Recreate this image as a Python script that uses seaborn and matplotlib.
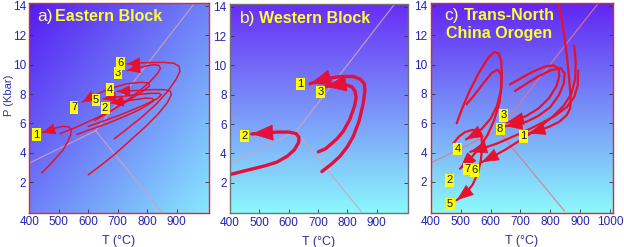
import numpy as np
import matplotlib
matplotlib.use("Agg")
import matplotlib.pyplot as plt
import seaborn as sns

# ---------------- data ----------------
x_ticks_ab = [400, 500, 600, 700, 800, 900]
x_ticks_c = [400, 500, 600, 700, 800, 900, 1000]
y_ticks = [2, 4, 6, 8, 10, 12, 14]

# Al2SiO5 phase boundaries
and_ky_T = [400, 625]
and_ky_P = [3.3, 5.5]
ky_sil_T = [625, 965]
ky_sil_P = [5.5, 14.3]
and_sil_T = [625, 848]
and_sil_P = [5.5, 0.0]

# Panel a - Eastern Block
a1_T = [442, 470, 495, 515, 530, 540, 543, 535, 515, 490, 465, 444]
a1_P = [2.63, 3.2, 3.75, 4.2, 4.75, 5.2, 5.55, 5.75, 5.8, 5.7, 5.5, 5.38]
a2_T = [561, 610, 665, 720, 770, 805, 822, 818, 795, 760, 715, 676]
a2_P = [5.25, 5.6, 6.0, 6.45, 6.9, 7.3, 7.55, 7.7, 7.72, 7.62, 7.5, 7.38]
a3_T = [622, 670, 720, 770, 810, 835, 845, 840, 822, 795, 765, 732]
a3_P = [6.2, 6.75, 7.4, 8.15, 8.85, 9.4, 9.75, 9.95, 10.0, 9.9, 9.75, 9.6]
a4_T = [600, 640, 690, 740, 790, 835, 868, 882, 878, 860, 820, 770, 730, 698]
a4_P = [2.5, 3.1, 3.9, 4.8, 5.7, 6.6, 7.4, 7.95, 8.2, 8.3, 8.3, 8.25, 8.2, 8.18]
a5_T = [600, 650, 705, 760, 805, 835, 848, 840, 810, 760, 700, 650]
a5_P = [5.8, 6.15, 6.55, 7.0, 7.4, 7.7, 7.95, 8.05, 8.05, 7.95, 7.8, 7.68]
a6_T = [688, 730, 780, 830, 870, 898, 911, 908, 890, 860, 820, 775, 732]
a6_P = [4.95, 5.6, 6.4, 7.3, 8.2, 9.0, 9.55, 9.9, 10.1, 10.15, 10.15, 10.12, 10.05]
a7_T = [504, 560, 620, 680, 740, 785, 808, 805, 780, 730, 670, 620, 580]
a7_P = [5.3, 5.75, 6.3, 6.9, 7.6, 8.2, 8.55, 8.75, 8.8, 8.7, 8.35, 7.9, 7.45]
a_labels = ["1", "2", "3", "4", "5", "6", "7"]
a_label_T = [423, 657, 701, 674, 626, 710, 552]
a_label_P = [5.24, 7.05, 9.43, 8.3, 7.6, 10.1, 7.1]

# Panel b - Western Block
b1_T = [713, 745, 775, 800, 820, 840, 854, 860, 858, 845, 820, 780, 741, 705, 673]
b1_P = [2.75, 3.25, 3.8, 4.45, 5.15, 6.2, 7.4, 8.3, 8.75, 9.05, 9.25, 9.25, 9.14, 8.95, 8.75]
b2_T = [400, 440, 480, 520, 560, 595, 620, 634, 635, 625, 600, 560, 520, 474]
b2_P = [2.55, 2.75, 2.95, 3.15, 3.4, 3.8, 4.25, 4.75, 5.1, 5.35, 5.45, 5.45, 5.38, 5.32]
b3_T = [701, 725, 741, 765, 786, 808, 824, 830, 826, 815, 786, 755, 724]
b3_P = [4.1, 4.3, 4.57, 5.0, 5.5, 6.3, 7.2, 7.8, 8.25, 8.55, 8.72, 8.65, 8.56]
b_labels = ["1", "2", "3"]
b_label_T = [639, 449, 710]
b_label_P = [8.73, 5.18, 8.18]

# Panel c - Trans-North China Orogen
c1_T = [827, 838, 848, 856, 862, 866, 868, 866, 855, 830, 795, 760, 727]
c1_P = [14.25, 13.1, 11.8, 10.5, 9.3, 8.3, 7.5, 7.0, 6.55, 6.1, 5.75, 5.5, 5.3]
c2_T = [520, 545, 575, 605, 625, 636, 637, 630, 612, 590, 565, 540, 515, 498]
c2_P = [7.3, 7.9, 8.7, 9.45, 9.65, 9.3, 8.5, 7.4, 6.2, 5.2, 4.4, 3.75, 3.25, 2.9]
c3_T = [665, 700, 740, 780, 810, 828, 830, 820, 795, 760, 720, 685, 655]
c3_P = [8.65, 9.05, 9.5, 9.85, 9.95, 9.75, 9.2, 8.5, 7.7, 7.0, 6.5, 6.2, 6.05]
c4_T = [487, 505, 530, 560, 590, 612, 628, 636, 638, 634, 622, 600, 570, 540, 518]
c4_P = [6.0, 7.0, 8.2, 9.4, 10.4, 10.85, 10.75, 10.2, 9.2, 8.2, 7.2, 6.3, 5.6, 5.15, 4.9]
c5_T = [476, 495, 515, 540, 560, 570, 572, 568, 558, 540, 515, 487]
c5_P = [4.64, 5.1, 5.4, 5.55, 5.45, 5.1, 4.4, 3.5, 2.6, 1.8, 1.2, 0.75]
c6_T = [880, 885, 883, 870, 845, 805, 755, 700, 650, 605, 571]
c6_P = [11.3, 10.2, 9.0, 8.0, 7.2, 6.4, 5.6, 4.85, 4.2, 3.7, 3.35]
c7_T = [893, 892, 880, 855, 815, 765, 715, 665, 620, 575, 532]
c7_P = [9.6, 8.6, 7.8, 7.1, 6.5, 5.95, 5.45, 5.0, 4.6, 4.3, 4.05]
c8_T = [682, 720, 760, 800, 835, 848, 845, 828, 800, 760, 720, 680, 650]
c8_P = [8.2, 8.7, 9.2, 9.6, 9.75, 9.4, 8.7, 7.9, 7.1, 6.5, 6.1, 5.9, 5.8]
c_labels = ["1", "2", "3", "4", "5", "6", "7", "8"]
c_label_T = [710, 462, 645, 490, 465, 548, 522, 632]
c_label_P = [5.1, 2.11, 6.55, 4.25, 0.5, 2.8, 2.87, 5.6]

# ---------------- style ----------------
sns.set_style("white")
plt.rcParams["font.family"] = ["Liberation Sans", "DejaVu Sans"]

W, H = 624, 247
fig = plt.figure(figsize=(W / 100, H / 100), dpi=100)

def frac_axes(l, t, r, b):
    return fig.add_axes([l / W, 1 - b / H, (r - l) / W, (b - t) / H])

ax_a = frac_axes(29.3, 3.0, 208.5, 213.0)
ax_b = frac_axes(230.0, 4.0, 407.5, 213.3)
ax_c = frac_axes(430.7, 3.0, 612.5, 212.7)

YLIM = (-0.1, 14.2)
tick_col = "#2424b4"
red = "#e8102a"


def background(ax, xlim, top, bottom, diagonal=False):
    n = 200
    u = np.linspace(0, 1, n)
    v = np.linspace(0, 1, n)
    U, V = np.meshgrid(u, v)  # V=0 bottom
    if diagonal:
        t = np.clip((U + (1 - V)) / 2.0, 0, 1)
    else:
        t = 1 - V
    top = np.array(top) / 255.0
    bottom = np.array(bottom) / 255.0
    img = top[None, None, :] + t[..., None] * (bottom - top)[None, None, :]
    ax.imshow(img, extent=[xlim[0], xlim[1], YLIM[0], YLIM[1]], origin="lower",
              aspect="auto", zorder=0, interpolation="bilinear")


def phase_lines(ax, col):
    for T, P in [(and_ky_T, and_ky_P), (ky_sil_T, ky_sil_P), (and_sil_T, and_sil_P)]:
        sns.lineplot(x=T, y=P, sort=False, estimator=None, ax=ax, color=col,
                     lw=0.9, alpha=0.85, zorder=1)


def path(ax, T, P, lw, ms, hl=0.6, hw=0.3, col=red):
    sns.lineplot(x=T, y=P, sort=False, estimator=None, ax=ax, color=col, lw=lw,
                 zorder=3)
    ax.annotate("", xy=(T[-1], P[-1]), xytext=(T[-2], P[-2]),
                arrowprops=dict(arrowstyle=f"-|>,head_length={hl},head_width={hw}",
                                color=col, lw=0.5, shrinkA=0, shrinkB=0,
                                mutation_scale=ms), zorder=4)


def labels(ax, labs, T, P, fs=8):
    for s, x, y in zip(labs, T, P):
        ax.text(x, y, s, fontsize=fs, color="#141440", ha="center", va="center",
                zorder=6, bbox=dict(boxstyle="square,pad=0.12", fc="#ffff00", ec="none"))


def setup(ax, xlim, xticks, spine_col):
    ax.set_xlim(*xlim)
    ax.set_ylim(*YLIM)
    ax.set_xticks(xticks)
    ax.set_yticks(y_ticks)
    ax.tick_params(axis="both", direction="in", length=3, width=0.6, color="#303050",
                   labelsize=8.5, labelcolor=tick_col, pad=2.5,
                   top=False, right=True, left=True, bottom=True)
    for s in ax.spines.values():
        s.set_color(spine_col)
        s.set_linewidth(1.0)
        s.set_zorder(7)
    ax.set_xlabel("T (°C)", fontsize=9, color="#303090", labelpad=5)
    ax.set_ylabel("")


def title(ax, x1, x2, y, letter, text, y2=None, text2=None, x3=None):
    ax.text(x1, y, letter, transform=ax.transAxes, fontsize=12.5, color="#ffff80",
            ha="left", va="center", zorder=8)
    ax.text(x2, y, text, transform=ax.transAxes, fontsize=11.5, color="#ffff30",
            fontweight="bold", ha="left", va="center", zorder=8)
    if text2:
        ax.text(x3, y2, text2, transform=ax.transAxes, fontsize=11.5, color="#ffff30",
                fontweight="bold", ha="left", va="center", zorder=8)


# ---- panel a ----
xlim_a = (400, 1008)
background(ax_a, xlim_a, (86, 26, 242), (136, 232, 255), diagonal=True)
phase_lines(ax_a, "#d0a0b8")
for T, P in [(a1_T, a1_P), (a2_T, a2_P), (a3_T, a3_P), (a4_T, a4_P),
             (a5_T, a5_P), (a6_T, a6_P), (a7_T, a7_P)]:
    path(ax_a, T, P, lw=1.1, ms=12, hl=0.7, hw=0.3)
labels(ax_a, a_labels, a_label_T, a_label_P)
setup(ax_a, xlim_a, x_ticks_ab, "#e02828")
ax_a.set_ylabel("P (Kbar)", fontsize=8, color="#3030b0")
ax_a.yaxis.set_label_coords(-0.085, 0.56)
title(ax_a, 0.045, 0.145, 0.935, "a)", "Eastern Block")

# ---- panel b ----
xlim_b = (400, 1005)
background(ax_b, xlim_b, (104, 44, 246), (140, 248, 252))
phase_lines(ax_b, "#c8a8b8")
for T, P in [(b1_T, b1_P), (b2_T, b2_P), (b3_T, b3_P)]:
    path(ax_b, T, P, lw=2.4, ms=18, hl=0.8, hw=0.3, col="#e4103c")
labels(ax_b, b_labels, b_label_T, b_label_P)
setup(ax_b, xlim_b, x_ticks_ab, "#707078")
title(ax_b, 0.056, 0.165, 0.933, "b)", "Western Block")

# ---- panel c ----
xlim_c = (400, 1008)
background(ax_c, xlim_c, (98, 36, 244), (140, 250, 252))
phase_lines(ax_c, "#e07888")
for T, P in [(c1_T, c1_P), (c2_T, c2_P), (c3_T, c3_P), (c4_T, c4_P),
             (c5_T, c5_P), (c6_T, c6_P), (c7_T, c7_P), (c8_T, c8_P)]:
    path(ax_c, T, P, lw=1.6, ms=14, hl=0.8, hw=0.3)
labels(ax_c, c_labels, c_label_T, c_label_P)
setup(ax_c, xlim_c, x_ticks_c, "#e02828")
title(ax_c, 0.075, 0.185, 0.94, "c)", "Trans-North", y2=0.855, text2="China Orogen", x3=0.082)

fig.savefig("out.png", dpi=100)
